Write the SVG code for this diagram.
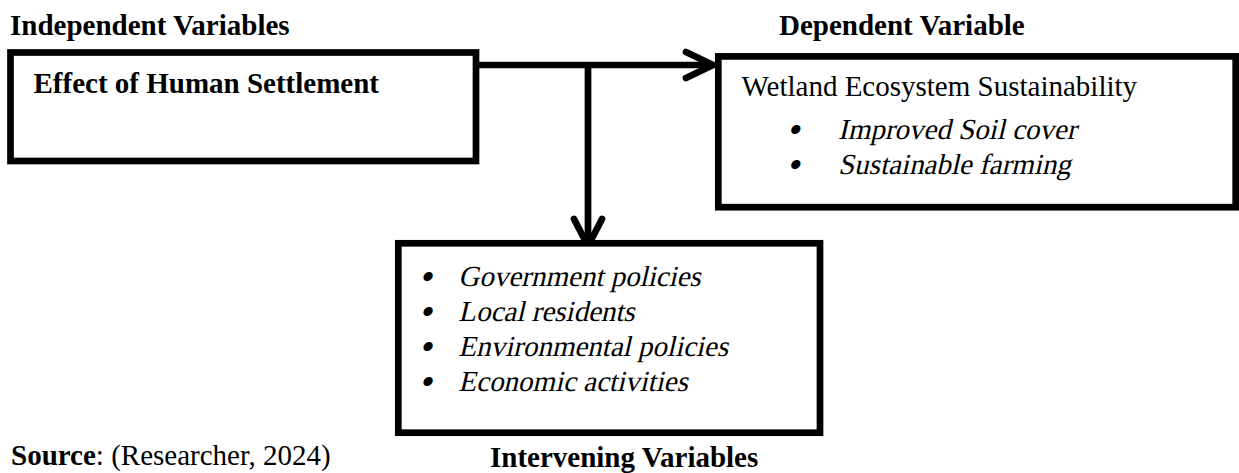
<svg xmlns="http://www.w3.org/2000/svg" width="1239" height="473" viewBox="0 0 1239 473">
<style>
text{font-family:"Liberation Serif","Times New Roman",serif;font-size:29px;fill:#000}
.b{font-weight:bold}
.bu{font-size:38px}
.box{fill:#fff;stroke:#000;stroke-width:6.7}
.ln{fill:none;stroke:#000;stroke-width:6.7}
.hd{fill:none;stroke:#000;stroke-width:6.7;stroke-linecap:round;stroke-linejoin:miter}
</style>
<rect width="1239" height="473" fill="#fff"/>
<g id="labels">
<text class="b" x="10" y="35">Independent Variables</text>
<text class="b" x="779" y="35">Dependent Variable</text>
<text x="11" y="465"><tspan class="b">Source</tspan>: (Researcher, 2024)</text>
<text class="b" x="490" y="467">Intervening Variables</text>
</g>
<g id="connectors">
<polyline class="ln" points="476,65 711,65"/>
<polyline class="hd" points="686,52 713,65 686,78"/>
<polyline class="ln" points="588,62 588,244"/>
<polyline class="hd" points="574,219 588,246 602,219"/>
</g>
<g id="node-independent">
<rect class="box" x="10.5" y="52.5" width="465.5" height="108.5"/>
<text class="b" x="33.5" y="93">Effect of Human Settlement</text>
</g>
<g id="node-dependent">
<rect class="box" x="718.3" y="56.4" width="517.4" height="150.8"/>
<text x="741.5" y="96">Wetland Ecosystem Sustainability</text>
<text transform="translate(838,139) skewX(-13)"><tspan class="bu" x="-51" y="3">•</tspan><tspan x="0" y="0">Improved Soil cover</tspan></text>
<text transform="translate(838,174) skewX(-13)"><tspan class="bu" x="-51" y="3">•</tspan><tspan x="0" y="0">Sustainable farming</tspan></text>
</g>
<g id="node-intervening">
<rect class="box" x="398.3" y="243.3" width="421.7" height="189.4"/>
<text transform="translate(458.3,286) skewX(-13)"><tspan class="bu" x="-39" y="3">•</tspan><tspan x="0" y="0">Government policies</tspan></text>
<text transform="translate(458.3,321) skewX(-13)"><tspan class="bu" x="-39" y="3">•</tspan><tspan x="0" y="0">Local residents</tspan></text>
<text transform="translate(458.3,356) skewX(-13)"><tspan class="bu" x="-39" y="3">•</tspan><tspan x="0" y="0">Environmental policies</tspan></text>
<text transform="translate(458.3,391) skewX(-13)"><tspan class="bu" x="-39" y="3">•</tspan><tspan x="0" y="0">Economic activities</tspan></text>
</g>
</svg>
